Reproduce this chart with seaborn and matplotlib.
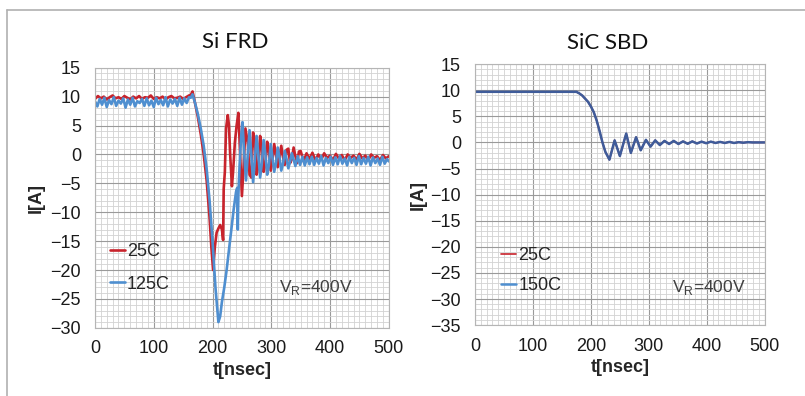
"""
Si FRD / SiC SBD reverse recovery waveforms - two panel recreation
"""
import numpy as np
import pandas as pd
import matplotlib.pyplot as plt
import matplotlib.lines as mlines
from matplotlib.ticker import MultipleLocator
import seaborn as sns

# ---- Si FRD, 25C (red) ----
frd_25c_t = [0, 5, 10, 15, 20, 25, 30, 35, 40, 45, 50, 55, 60, 65, 70, 75, 80, 85, 90, 95,
             100, 105, 110, 115, 120, 125, 130, 135, 140, 145, 150, 155, 160, 163, 166,
             170, 175, 180, 185, 190, 195, 198, 201, 204, 207, 210, 213, 216, 218, 219,
             221, 223, 226, 228, 230, 233, 235, 238, 241, 244, 247, 250, 253, 256, 260,
             263, 266, 269, 272, 275, 278, 281, 284, 287, 290, 293, 296, 299, 302, 305,
             308, 311, 314, 317, 320, 323, 326, 329, 332, 335, 338, 341, 344, 347, 350,
             355, 360, 365, 370, 375, 380, 385, 390, 395, 400, 405, 410, 415, 420, 425,
             430, 435, 440, 445, 450, 455, 460, 465, 470, 475, 480, 485, 490, 495, 500]
frd_25c_i = [9.6, 10.1, 9.7, 10.0, 9.5, 9.9, 10.2, 9.7, 9.9, 9.6, 10.1, 9.8, 9.5, 10.0, 9.7,
             10.1, 9.6, 9.9, 9.8, 10.2, 9.6, 9.9, 9.7, 10.0, 9.5, 9.9, 10.1, 9.7, 9.8, 10.0,
             9.6, 9.9, 10.2, 10.3, 10.9,
             9.0, 6.5, 3.5, 0.0, -4.5, -11.0, -16.0, -20.0, -16.0, -13.5, -12.8, -12.2, -13.0,
             -14.8, -6.0, -3.0, 4.5, 6.8, 5.0, 0.0, -5.5, -3.0, 2.0, 5.0, 7.2, 0.0, -7.2, -2.0,
             4.5, 2.0, -3.5, -4.0, 3.8, 2.5, -3.5, -2.0, 3.2, 1.0, -3.0, -1.5, 2.2, 0.5, -2.8,
             -1.0, 1.8, 0.0, -2.2, -0.5, 1.5, -0.5, -1.8, 0.8, 1.0, -1.5, -0.8, 1.2, -0.3,
             -1.5, 0.5, 0.6, -1.2, 0.2, -0.8, 0.3, -1.0, 0.0, -0.9, 0.2, -0.6, -0.2, -1.0,
             0.1, -0.7, -0.1, -1.0, 0.0, -0.6, -0.2, -0.9, 0.1, -0.7, -0.2, -1.0, 0.0, -0.6,
             -0.3, -1.0, -0.1, -0.7, -0.3]

# ---- Si FRD, 125C (blue) ----
frd_125c_t = [0, 4, 8, 12, 16, 20, 24, 28, 32, 36, 40, 44, 48, 52, 56, 60, 64, 68, 72, 76,
              80, 84, 88, 92, 96, 100, 104, 108, 112, 116, 120, 124, 128, 132, 136, 140,
              144, 148, 152, 156, 160, 163, 166, 170, 175, 180, 185, 190, 195, 200, 205,
              210, 213, 216, 220, 224, 228, 232, 236, 240, 242, 243, 244, 246, 249, 251,
              254, 257, 260, 263, 266, 269, 272, 275, 278, 281, 284, 287, 290, 293, 296,
              299, 302, 305, 308, 311, 314, 317, 320, 323, 326, 329, 332, 335, 338, 341,
              345, 349, 353, 357, 361, 365, 369, 373, 377, 381, 385, 389, 393, 397, 401,
              405, 409, 413, 417, 421, 425, 429, 433, 437, 441, 445, 449, 453, 457, 461,
              465, 469, 473, 477, 481, 485, 489, 493, 497, 500]
frd_125c_i = [9.2, 8.3, 9.6, 8.6, 9.8, 8.2, 9.4, 8.7, 9.9, 8.4, 9.3, 8.8, 9.7, 8.1, 9.5, 8.6,
              9.8, 8.3, 9.2, 8.9, 9.6, 8.4, 9.7, 8.5, 9.3, 8.2, 9.8, 8.7, 9.4, 8.5, 9.9, 8.3,
              9.5, 8.8, 9.6, 8.4, 9.8, 8.6, 9.7, 8.9, 9.9, 9.8, 10.4, 9.0, 7.0, 4.5, 1.5,
              -2.5, -8.0, -15.0, -23.0, -29.0, -28.0, -25.5, -23.0, -20.0, -16.5, -13.0,
              -9.5, -6.5, -5.8, -13.0, -7.0, -2.0, 3.5, 5.6, 0.0, -4.5, 0.0, 4.2, 0.0, -4.8,
              -1.0, 3.2, 0.0, -4.0, -1.5, 2.5, 0.0, -3.5, -1.8, 1.8, -0.5, -3.0, -1.5, 1.2,
              -0.5, -2.8, -1.6, 0.6, -0.8, -2.4, -1.2, 0.2, -0.9, -2.0, -0.3, -1.8, -0.4,
              -1.9, -0.5, -1.7, -0.4, -1.8, -0.6, -1.6, -0.3, -1.9, -0.6, -1.5, -0.4, -1.8,
              -0.5, -1.7, -0.3, -1.6, -0.7, -1.9, -0.4, -1.5, -0.6, -1.8, -0.3, -1.7, -0.6,
              -1.6, -0.4, -1.9, -0.5, -1.5, -0.7, -1.8, -0.4, -1.6, -0.8, -1.2]

# ---- SiC SBD, 25C and 150C (traces overlap) ----
sbd_t = [0, 50, 100, 150, 175, 180, 185, 190, 195, 200, 205, 210, 215, 220, 225, 232,
         241, 250, 261, 269, 278, 286, 295, 303, 311, 319, 327, 335, 343, 351, 359, 367,
         375, 383, 391, 399, 407, 415, 423, 431, 439, 447, 455, 463, 471, 479, 487, 495, 500]
sbd_150c_i = [9.7, 9.7, 9.7, 9.7, 9.7, 9.4, 9.0, 8.4, 7.8, 6.9, 5.8, 4.2, 2.2, 0.0, -1.8,
              -3.3, 0.4, -2.6, 1.7, -2.0, 1.0, -1.5, 0.5, -0.8, 0.4, -0.5, 0.3, -0.3, 0.3,
              -0.3, 0.2, -0.25, 0.2, -0.2, 0.15, -0.15, 0.15, -0.1, 0.1, -0.1, 0.1, -0.1,
              0.05, -0.05, 0.05, 0.0, 0.0, 0.0, 0.0]
sbd_25c_i = [9.7, 9.7, 9.7, 9.7, 9.7, 9.4, 9.0, 8.4, 7.8, 6.9, 5.8, 4.2, 2.2, 0.0, -1.8,
             -3.3, 0.4, -2.6, 1.7, -2.0, 1.0, -1.5, 0.5, -0.8, 0.4, -0.5, 0.3, -0.3, 0.3,
             -0.3, 0.2, -0.25, 0.2, -0.2, 0.15, -0.15, 0.15, -0.1, 0.1, -0.1, 0.1, -0.1,
             0.05, -0.05, 0.05, 0.0, 0.0, 0.0, 0.0]

RED = '#c8232c'
BLUE = '#4f8fd0'
NAVY = '#3f5c9a'
FS = 13

sns.set_style("white")
plt.rcParams['font.family'] = ['Liberation Sans', 'DejaVu Sans']
plt.rcParams['mathtext.fontset'] = 'custom'
plt.rcParams['mathtext.rm'] = 'Liberation Sans'


def style_axes(ax, ymin):
    """Excel benzeri ince ızgara"""
    ax.set_xlim(0, 500)
    ax.set_ylim(ymin, 15)
    ax.xaxis.set_major_locator(MultipleLocator(100))
    ax.xaxis.set_minor_locator(MultipleLocator(10))
    ax.yaxis.set_major_locator(MultipleLocator(5))
    ax.yaxis.set_minor_locator(MultipleLocator(1))
    ax.grid(which='major', color='#9a9a9a', linewidth=0.8)
    ax.grid(which='minor', color='#d2d2d2', linewidth=0.6)
    ax.set_axisbelow(True)
    ax.tick_params(which='both', length=0, labelsize=FS, colors='#1a1a1a')
    ax.tick_params(axis='y', pad=10)
    ax.tick_params(axis='x', pad=9)
    for sp in ax.spines.values():
        sp.set_color('#b5b5b5')
        sp.set_linewidth(0.8)
    ax.set_xlabel('t[nsec]', fontsize=FS, fontweight='bold', labelpad=3)
    ax.set_ylabel('I[A]', fontsize=FS, fontweight='bold')


fig = plt.figure(figsize=(8.05, 3.96), dpi=100)
ax1 = fig.add_axes([0.118, 0.172, 0.365, 0.657])
ax2 = fig.add_axes([0.590, 0.179, 0.360, 0.659])

# Si FRD
df_frd25 = pd.DataFrame({'t': frd_25c_t, 'i': frd_25c_i})
df_frd125 = pd.DataFrame({'t': frd_125c_t, 'i': frd_125c_i})
sns.lineplot(data=df_frd25, x='t', y='i', ax=ax1, color=RED, linewidth=1.9,
             sort=False, label='25C')
sns.lineplot(data=df_frd125, x='t', y='i', ax=ax1, color=BLUE, linewidth=1.9,
             sort=False, label='125C')
style_axes(ax1, -30)
ax1.yaxis.set_label_coords(-0.17, 0.5)
ax1.legend(loc='upper left', bbox_to_anchor=(0.05, 0.325), frameon=False, fontsize=FS,
           handlelength=0.85, handletextpad=0.1, labelspacing=0.85, borderpad=0,
           borderaxespad=0)
ax1.text(0.626, 0.154, r'V$_\mathrm{R}$=400V', transform=ax1.transAxes, fontsize=12.5,
         color='#404040', va='center', ha='left')

# SiC SBD
df_sbd25 = pd.DataFrame({'t': sbd_t, 'i': sbd_25c_i})
df_sbd150 = pd.DataFrame({'t': sbd_t, 'i': sbd_150c_i})
sns.lineplot(data=df_sbd25, x='t', y='i', ax=ax2, color=RED, linewidth=1.2,
             sort=False, label='25C')
sns.lineplot(data=df_sbd150, x='t', y='i', ax=ax2, color=NAVY, linewidth=1.8,
             sort=False, label='150C')
style_axes(ax2, -35)
ax2.yaxis.set_label_coords(-0.165, 0.5)
leg2 = ax2.legend(loc='upper left', bbox_to_anchor=(0.09, 0.30), frameon=False, fontsize=FS,
                  handlelength=0.85, handletextpad=0.1, labelspacing=0.75, borderpad=0,
                  borderaxespad=0)
leg2.get_lines()[1].set_color(BLUE)
ax2.text(0.679, 0.146, r'V$_\mathrm{R}$=400V', transform=ax2.transAxes, fontsize=12.5,
         color='#404040', va='center', ha='left')

# titles
fig.text(235 / 805, 1 - 42 / 396, 'Si FRD', fontsize=16, family=['Lato', 'DejaVu Sans'],
         ha='center', va='center', color='#111111')
fig.text(608 / 805, 1 - 43 / 396, 'SiC SBD', fontsize=16, family=['Lato', 'DejaVu Sans'],
         ha='center', va='center', color='#111111')

# outer frame (only top and left edges are visible)
fig.add_artist(mlines.Line2D([7 / 805, 1.0], [1 - 10 / 396, 1 - 10 / 396],
                             color='#b0b0b0', linewidth=1.2, transform=fig.transFigure))
fig.add_artist(mlines.Line2D([7 / 805, 7 / 805], [0.0, 1 - 10 / 396],
                             color='#b0b0b0', linewidth=1.2, transform=fig.transFigure))

fig.savefig('out.png', dpi=100)
plt.close(fig)
